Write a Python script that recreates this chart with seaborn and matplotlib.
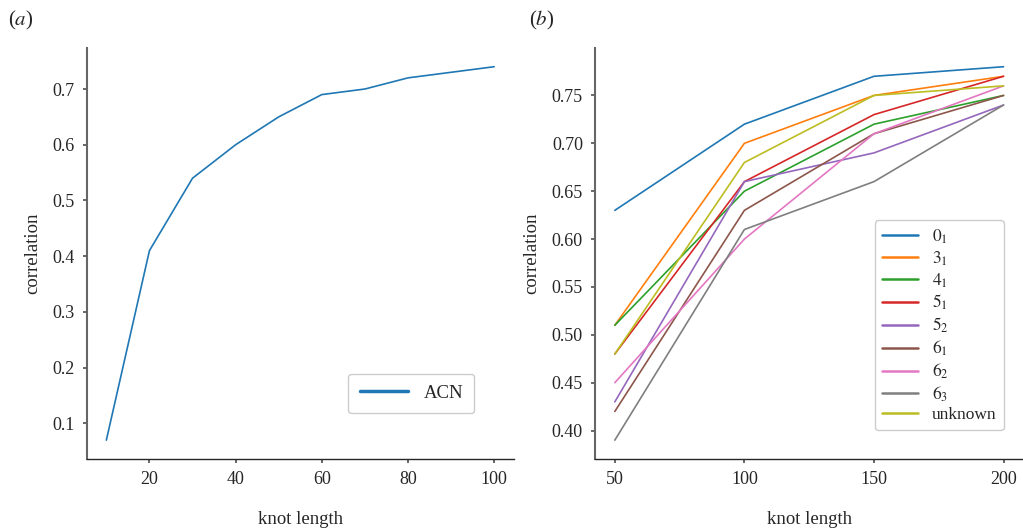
import matplotlib
matplotlib.use("Agg")
import matplotlib.pyplot as plt
import seaborn as sns
import pandas as pd

# Panel (a): ACN correlation vs knot length
acn_lengths = [10, 20, 30, 40, 50, 60, 70, 80, 90, 100]
acn_corr = [0.07, 0.41, 0.54, 0.60, 0.65, 0.69, 0.70, 0.72, 0.73, 0.74]

# Panel (b): correlation per knot type
knot_lengths = [50, 100, 150, 200]
knot_types = ["0_1", "3_1", "4_1", "5_1", "5_2", "6_1", "6_2", "6_3", "unknown"]
corr_0_1 = [0.63, 0.72, 0.77, 0.78]
corr_3_1 = [0.51, 0.70, 0.75, 0.77]
corr_4_1 = [0.51, 0.65, 0.72, 0.75]
corr_5_1 = [0.48, 0.66, 0.73, 0.77]
corr_5_2 = [0.43, 0.66, 0.69, 0.74]
corr_6_1 = [0.42, 0.63, 0.71, 0.75]
corr_6_2 = [0.45, 0.60, 0.71, 0.76]
corr_6_3 = [0.39, 0.61, 0.66, 0.74]
corr_unknown = [0.48, 0.68, 0.75, 0.76]
knot_corrs = [corr_0_1, corr_3_1, corr_4_1, corr_5_1, corr_5_2,
              corr_6_1, corr_6_2, corr_6_3, corr_unknown]

sns.set_theme(style="ticks")
plt.rcParams["font.family"] = ["Liberation Serif", "DejaVu Serif"]
plt.rcParams["mathtext.fontset"] = "stix"
plt.rcParams["font.size"] = 13

df_a = pd.DataFrame({"knot length": acn_lengths, "correlation": acn_corr, "label": "ACN"})

rows = []
for name, vals in zip(knot_types, knot_corrs):
    lab = name if name == "unknown" else "$" + name + "$"
    for x, y in zip(knot_lengths, vals):
        rows.append({"knot length": x, "correlation": y, "knot": lab})
df_b = pd.DataFrame(rows)

fig = plt.figure(figsize=(10.23, 5.28), dpi=100)
ax1 = fig.add_axes([0.085, 0.131, 0.417, 0.778])
ax2 = fig.add_axes([0.582, 0.131, 0.418, 0.778])

sns.lineplot(data=df_a, x="knot length", y="correlation", hue="label",
             palette=["#1f77b4"], linewidth=1.2, ax=ax1)
sns.lineplot(data=df_b, x="knot length", y="correlation", hue="knot",
             palette="tab10", linewidth=1.2, ax=ax2)

leg1 = ax1.legend(loc="lower right", bbox_to_anchor=(0.93, 0.088), fontsize=13.5,
                  handlelength=2.6, borderpad=0.6, framealpha=1)
for line in leg1.get_lines():
    line.set_linewidth(2.5)
leg2 = ax2.legend(loc="lower right", bbox_to_anchor=(0.975, 0.048), fontsize=12.5,
                  handlelength=2.1, labelspacing=0.2, framealpha=1)
for line in leg2.get_lines():
    line.set_linewidth(1.8)

for ax in (ax1, ax2):
    sns.despine(ax=ax)
    ax.spines["left"].set_color("#666666")
    ax.spines["left"].set_linewidth(1.5)
    ax.spines["bottom"].set_linewidth(1.0)
    ax.tick_params(labelsize=13, pad=6, length=3, color="#555555")
    ax.set_xlabel("knot length", fontsize=13.5, labelpad=16)
    ax.set_ylabel("correlation", fontsize=13.5, labelpad=8)

ax1.set_xticks([20, 40, 60, 80, 100])
ax1.set_yticks([0.1, 0.2, 0.3, 0.4, 0.5, 0.6, 0.7])
ax2.set_xticks([50, 100, 150, 200])
ax2.set_yticks([0.40, 0.45, 0.50, 0.55, 0.60, 0.65, 0.70, 0.75])
ax2.yaxis.set_major_formatter(matplotlib.ticker.FormatStrFormatter("%.2f"))

fig.text(0.008, 0.962, "($a$)", fontsize=15, va="center")
fig.text(0.517, 0.962, "($b$)", fontsize=15, va="center")

fig.savefig("out.png", dpi=100)
